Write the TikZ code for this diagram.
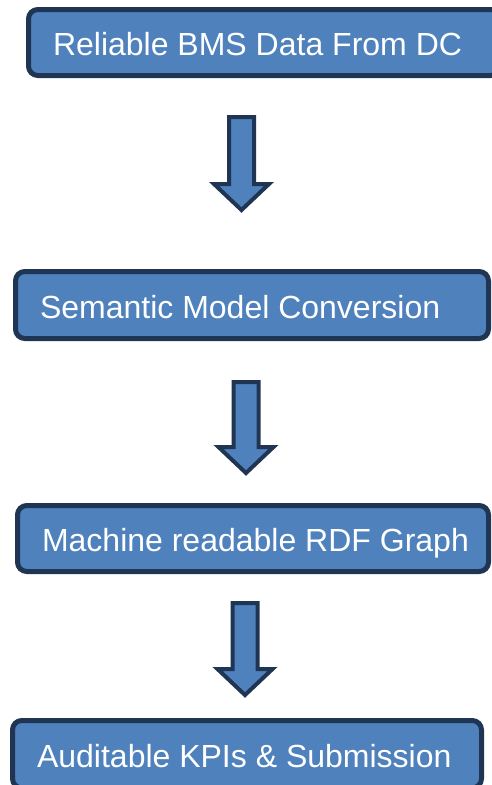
\documentclass[tikz,border=0pt]{standalone}
\usepackage{fontspec}
\setmainfont{Liberation Sans}
\definecolor{boxfill}{HTML}{4F81BD}
\definecolor{boxline}{HTML}{1F3553}
\newcommand\boxtext[2]{\makebox[#1][l]{\hspace{18.4pt}#2}}
\tikzset{
  stepbox/.style={draw=boxline, fill=boxfill, line width=3.75pt, rounded corners=7pt,
    anchor=north west, inner xsep=0pt, inner ysep=0pt,
    text=white, font=\fontsize{24pt}{28pt}\selectfont, text height=19.6pt, text depth=0pt},
  blockarrow/.style={draw=boxline, fill=boxfill, line width=3pt, line join=miter}
}
\begin{document}
\begin{tikzpicture}[x=0.75pt,y=-0.75pt]
\useasboundingbox (0,0) rectangle (492,785);
\clip (0,0) rectangle (492,785);
\node[stepbox, minimum height=49.5pt] (b1) at (26,7) {\boxtext{353.6pt}{Reliable BMS Data From DC}};
\node[stepbox, minimum height=50.25pt] (b2) at (13,269) {\boxtext{354.75pt}{Semantic Model Conversion}};
\node[stepbox, minimum height=49.5pt] (b3) at (15,503) {\boxtext{353.25pt}{Machine readable RDF Graph}};
\node[stepbox, minimum height=50.6pt] (b4) at (10,718) {\boxtext{351.75pt}{Auditable KPIs \& Submission}};
\coordinate (a1) at (241.5,117);
\coordinate (a2) at (246,382);
\coordinate (a3) at (245,603);
\foreach \a/\s in {a1/67, a2/65, a3/66} {
  \draw[blockarrow] (\a) ++(-12.5,0) -- ++(25,0) -- ++(0,\s) -- ++(15,0) -- ++(-27.5,26) -- ++(-27.5,-26) -- ++(15,0) -- cycle;
}
\end{tikzpicture}
\end{document}
